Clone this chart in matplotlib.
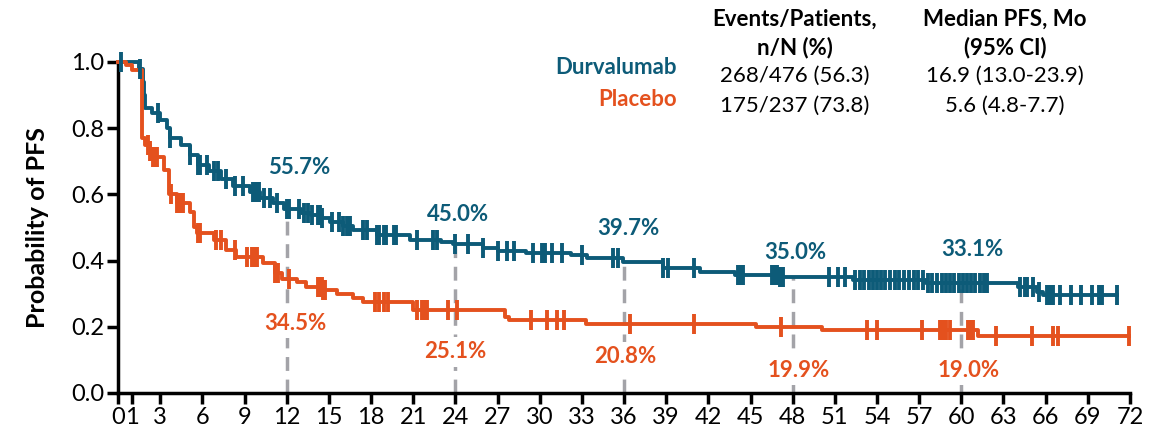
import numpy as np
import matplotlib
matplotlib.use('Agg')
import matplotlib.pyplot as plt

plt.rcParams['font.family'] = ['Lato', 'DejaVu Sans']

DURVA = '#0d5b78'
PLAC = '#e4511e'
GREY = '#a3a3a8'

# Kaplan-Meier steps: time of drop (months) and survival after the drop
durva_t = [0, 1.5, 1.8, 1.85, 1.9, 2.4, 3.0, 3.5, 3.7, 4.5, 5.1, 5.7, 6.5, 7.3, 8.2, 9.4,
           10.1, 11.0, 11.8, 13.0, 13.7, 14.5, 15.1, 16.0, 16.7, 18.4, 20.8, 23.0, 23.8,
           26.0, 27.0, 29.0, 32.2, 33.4, 35.9, 38.8, 41.4, 43.9, 47.1, 52.3, 57.5, 64.0,
           65.4, 65.8]
durva_s = [1.0, 0.98, 0.94, 0.90, 0.86, 0.845, 0.825, 0.80, 0.77, 0.75, 0.72, 0.69, 0.67,
           0.645, 0.625, 0.608, 0.59, 0.574, 0.557, 0.545, 0.538, 0.528, 0.518, 0.505, 0.492,
           0.477, 0.462, 0.455, 0.45, 0.438, 0.43, 0.424, 0.417, 0.408, 0.397, 0.378, 0.365,
           0.356, 0.35, 0.341, 0.331, 0.321, 0.306, 0.296]
durva_end = 71.1
durva_cens = [0.2, 1.55, 2.85, 3.7, 5.1, 5.7, 5.8, 6.3, 6.8, 7.1, 7.7, 8.3, 8.9, 9.6, 9.8, 10.0,
              10.4, 10.8, 11.3, 12.0, 12.2, 12.9, 13.2, 13.5, 13.8, 14.2, 14.4, 14.5, 15.2,
              15.7, 16.0, 16.3, 16.5, 17.4, 17.7, 18.4, 18.6, 18.9, 19.1, 19.6, 19.8, 21.3,
              22.4, 22.7, 24.0, 24.9, 26.0, 27.0, 27.7, 28.2, 29.5, 30.2, 30.3, 30.4, 30.9,
              31.6, 33.0, 35.2, 35.6, 38.8, 39.1, 41.0, 44.1, 44.3, 44.5, 46.5, 46.7, 46.9,
              47.1, 47.3, 50.6, 51.2, 51.7, 52.4, 52.8, 53.1, 53.4, 53.7, 54.0, 54.3, 54.6,
              54.9, 55.3, 55.6, 55.9, 56.3, 56.6, 56.9, 57.3, 57.6, 57.9, 58.3, 58.6, 58.9,
              59.2, 59.5, 59.8, 60.1, 60.4, 60.7, 61.0, 61.3, 61.6, 61.8, 64.2, 64.5, 64.7,
              65.1, 65.5, 66.1, 66.3, 66.5, 67.0, 67.8, 68.5, 69.3, 69.8, 70.0, 71.1]

plac_t = [0, 0.6, 1.0, 1.7, 1.9, 2.3, 2.5, 3.3, 3.6, 4.2, 5.1, 5.4, 5.6, 6.8, 7.7, 8.4, 10.3,
          11.2, 11.7, 12.7, 13.4, 14.6, 15.6, 16.7, 17.4, 21.0, 27.5, 27.8, 33.3, 45.4, 50.1,
          61.2]
plac_s = [1.0, 0.99, 0.975, 0.77, 0.75, 0.73, 0.714, 0.674, 0.60, 0.574, 0.548, 0.50, 0.483,
          0.462, 0.432, 0.412, 0.393, 0.362, 0.345, 0.336, 0.321, 0.311, 0.298, 0.287, 0.276,
          0.251, 0.23, 0.22, 0.208, 0.199, 0.19, 0.171]
plac_end = 71.9
plac_cens = [2.1, 2.3, 2.5, 2.6, 2.8, 3.8, 4.2, 4.4, 4.6, 5.7, 5.8, 7.0, 7.3, 8.3, 9.2, 9.5,
             9.7, 9.9, 11.2, 11.4, 12.2, 14.2, 14.3, 14.4, 14.5, 14.6, 14.7, 18.3, 18.6, 18.9,
             19.2, 21.3, 21.6, 21.8, 22.0, 23.5, 24.1, 29.4, 30.5, 31.2, 31.7, 36.4, 41.0,
             47.2, 53.3, 54.0, 57.2, 58.5, 58.7, 58.9, 59.2, 60.5, 60.7, 60.8, 62.5, 65.0,
             66.5, 66.9, 71.9]

landmarks = [12, 24, 36, 48, 60]
durva_pct = [55.7, 45.0, 39.7, 35.0, 33.1]
plac_pct = [34.5, 25.1, 20.8, 19.9, 19.0]
durva_lab_y = [0.68, 0.538, 0.498, 0.423, 0.432]
plac_lab_y = [0.211, 0.124, 0.109, 0.069, 0.069]
durva_lab_x = [12.9, 24.2, 36.3, 48.2, 60.8]
plac_lab_x = [12.6, 24.0, 36.1, 48.4, 60.5]

xticks = [0, 1] + list(range(3, 73, 3))
yticks = [0.0, 0.2, 0.4, 0.6, 0.8, 1.0]


def surv_at(t, times, surv):
    i = np.searchsorted(times, t, side='right') - 1
    return np.asarray(surv)[i]


fig = plt.figure(figsize=(11.56, 4.34), dpi=100)
ax = fig.add_axes([0.1021, 0.0945, 0.8754, 0.7627])

# dashed landmark lines up to the durvalumab curve
for m in landmarks:
    ax.plot([m, m], [0, surv_at(m, durva_t, durva_s)], color=GREY, lw=2.5,
            dashes=(4, 2.5), zorder=1, clip_on=False)

for times, surv, end, cens, col in [(durva_t, durva_s, durva_end, durva_cens, DURVA),
                                    (plac_t, plac_s, plac_end, plac_cens, PLAC)]:
    tt = list(times) + [end]
    ss = list(surv) + [surv[-1]]
    ax.step(tt, ss, where='post', color=col, lw=2.8, zorder=3, clip_on=False)
    cens = np.array(cens)
    ax.plot(cens, surv_at(cens, times, surv), ls='none', marker='|', ms=15, mew=2.8,
            color=col, zorder=4, clip_on=False)

for x, y, v in zip(durva_lab_x, durva_lab_y, durva_pct):
    ax.text(x, y, f'{v:.1f}%', color=DURVA, fontsize=16, fontweight='bold',
            ha='center', va='center', zorder=5)
for x, y, v in zip(plac_lab_x, plac_lab_y, plac_pct):
    ax.text(x, y, f'{v:.1f}%', color=PLAC, fontsize=16, fontweight='bold',
            ha='center', va='center', zorder=5,
            bbox=dict(facecolor='white', edgecolor='none', pad=3))

ax.set_xlim(0, 72)
ax.set_ylim(0, 1.0)
ax.set_xticks(xticks)
ax.set_yticks(yticks)
ax.set_yticklabels([f'{v:.1f}' for v in yticks])
ax.tick_params(direction='out', length=8, width=2.5, labelsize=17, pad=2)
for s in ['top', 'right']:
    ax.spines[s].set_visible(False)
for s in ['left', 'bottom']:
    ax.spines[s].set_linewidth(2.5)
ax.set_ylabel('Probability of PFS', fontsize=18, fontweight='bold', labelpad=16)

# header table
W, H = 1156, 434
def ftext(x, y, s, **kw):
    fig.text(x / W, 1 - y / H, s, va='center', fontsize=16, **kw)

ftext(677, 68, 'Durvalumab', ha='right', color=DURVA, fontweight='bold')
ftext(677, 99, 'Placebo', ha='right', color=PLAC, fontweight='bold')
ftext(795, 19, 'Events/Patients,', ha='center', fontweight='bold')
ftext(795, 48, 'n/N (%)', ha='center', fontweight='bold')
ftext(795, 76, '268/476 (56.3)', ha='center')
ftext(795, 106, '175/237 (73.8)', ha='center')
ftext(1005, 19, 'Median PFS, Mo', ha='center', fontweight='bold')
ftext(1005, 48, '(95% CI)', ha='center', fontweight='bold')
ftext(1005, 76, '16.9 (13.0-23.9)', ha='center')
ftext(1005, 106, '5.6 (4.8-7.7)', ha='center')

fig.savefig('out.png', dpi=100)
